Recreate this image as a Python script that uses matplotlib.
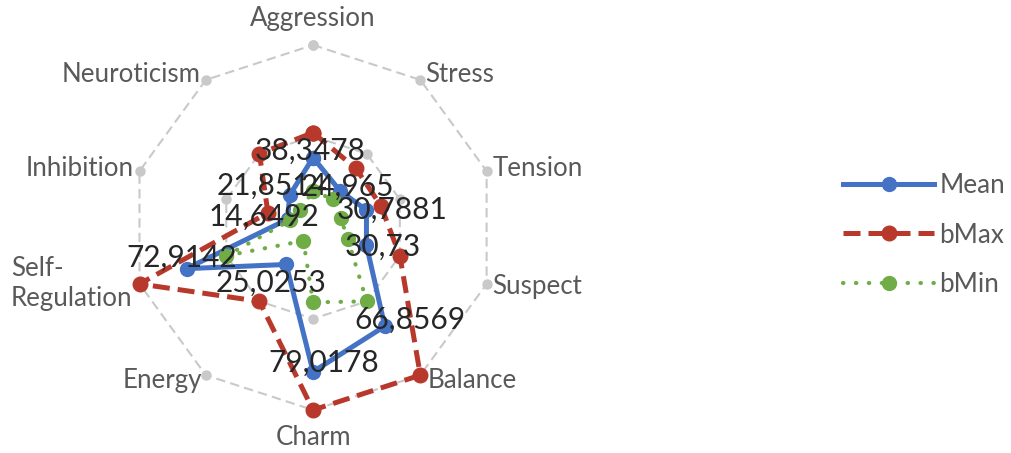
import numpy as np
import matplotlib.pyplot as plt
from matplotlib.lines import Line2D

# ---- data ----
categories = ['Aggression', 'Stress', 'Tension', 'Suspect', 'Balance', 'Charm',
              'Energy', 'Self-\nRegulation', 'Inhibition', 'Neuroticism']
series_names = ['Mean', 'bMax', 'bMin']
mean_vals = [38.3478, 24.965, 30.7881, 30.73, 66.8569, 79.0178, 25.0253, 72.9142, 14.6492, 21.8514]
bmax_vals = [52, 40, 39, 50, 100, 100, 50, 100, 26, 50]
bmin_vals = [20, 19, 16, 20, 50, 41, 9, 50, 13, 12]
outer_vals = [100] * 10
mid_vals = [50] * 10

# ---- styling ----
plt.rcParams['font.family'] = ['Lato', 'DejaVu Sans']
BLUE = '#4472C4'
RED = '#B8392C'
GREEN = '#70AD47'
GRAY = '#C9C9C9'
TXT = '#595959'
PX = 0.72  # pixels -> points at dpi 100

n = len(categories)
theta = np.arange(n) * 2 * np.pi / n
theta_c = np.append(theta, theta[0])


def closed(v):
    return np.append(v, v[0])


fig = plt.figure(figsize=(10.12, 4.53), dpi=100)
ax = fig.add_axes([0.129, 0.0949, 0.3607, 0.8057], projection='polar')
ax.set_theta_zero_location('N')
ax.set_theta_direction(-1)
ax.set_ylim(0, 100)
ax.grid(False)
ax.spines['polar'].set_visible(False)
ax.set_xticks([])
ax.set_yticks([])
ax.patch.set_alpha(0)

# gray reference rings (50 and 100) drawn as dashed series with markers
gray_kw = dict(color=GRAY, lw=1.5, linestyle=(0, (4.5, 2.5)), marker='o', ms=6.5,
               mec=GRAY, mfc=GRAY, clip_on=False)
ax.plot(theta_c, closed(outer_vals), **gray_kw)
ax.plot(theta_c, closed(mid_vals), **gray_kw)

mean_kw = dict(color=BLUE, lw=3.6, marker='o', ms=10)
bmax_kw = dict(color=RED, lw=3.6, linestyle=(0, (3.4, 1.6)), marker='o', ms=10.5)
bmin_kw = dict(color=GREEN, lw=3.0, linestyle=(0, (0.1, 3.0)), dash_capstyle='round',
               marker='o', ms=10)
ax.plot(theta_c, closed(mean_vals), solid_joinstyle='round', clip_on=False, **mean_kw)
ax.plot(theta_c, closed(bmax_vals), clip_on=False, **bmax_kw)
ax.plot(theta_c, closed(bmin_vals), clip_on=False, **bmin_kw)

# data labels of the Mean series (offsets in px: right, up)
label_dx = [-3, 8, 26, 16, 25, 11, -15, -5, -24, -18]
label_dy = [7, 4, 0, -2, 6, 9, -18, 11, 2, 9]
for i, v in enumerate(mean_vals):
    ax.annotate(str(v).replace('.', ','), xy=(theta[i], v),
                xytext=(label_dx[i] * PX, label_dy[i] * PX), textcoords='offset points',
                ha='center', va='center', fontsize=21.5, color='#262626', zorder=10)

# category labels round the outer ring
cat_dx = [0, 5, 6, 6, 7, 0, -4, -7, -6, -5]
cat_dy = [27, 5, 3, -3, -5, -27, -5, 0, 3, 5]
cat_ha = ['center', 'left', 'left', 'left', 'left', 'center', 'right', 'right', 'right', 'right']
for i, c in enumerate(categories):
    ax.annotate(c, xy=(theta[i], 100), xytext=(cat_dx[i] * PX, cat_dy[i] * PX),
                textcoords='offset points', ha=cat_ha[i], va='center',
                multialignment='left', fontsize=18.6, color=TXT, linespacing=1.25)

handles = [Line2D([], [], **mean_kw), Line2D([], [], **bmax_kw), Line2D([], [], **bmin_kw)]
leg = fig.legend(handles, series_names, loc='center left',
                 bbox_to_anchor=(843 / 1012, 0.481), frameon=False, fontsize=18.8,
                 handlelength=3.5, handletextpad=0.2, labelspacing=0.95,
                 borderpad=0, borderaxespad=0, numpoints=1)
for t in leg.get_texts():
    t.set_color(TXT)

fig.savefig('out.png', dpi=100)
